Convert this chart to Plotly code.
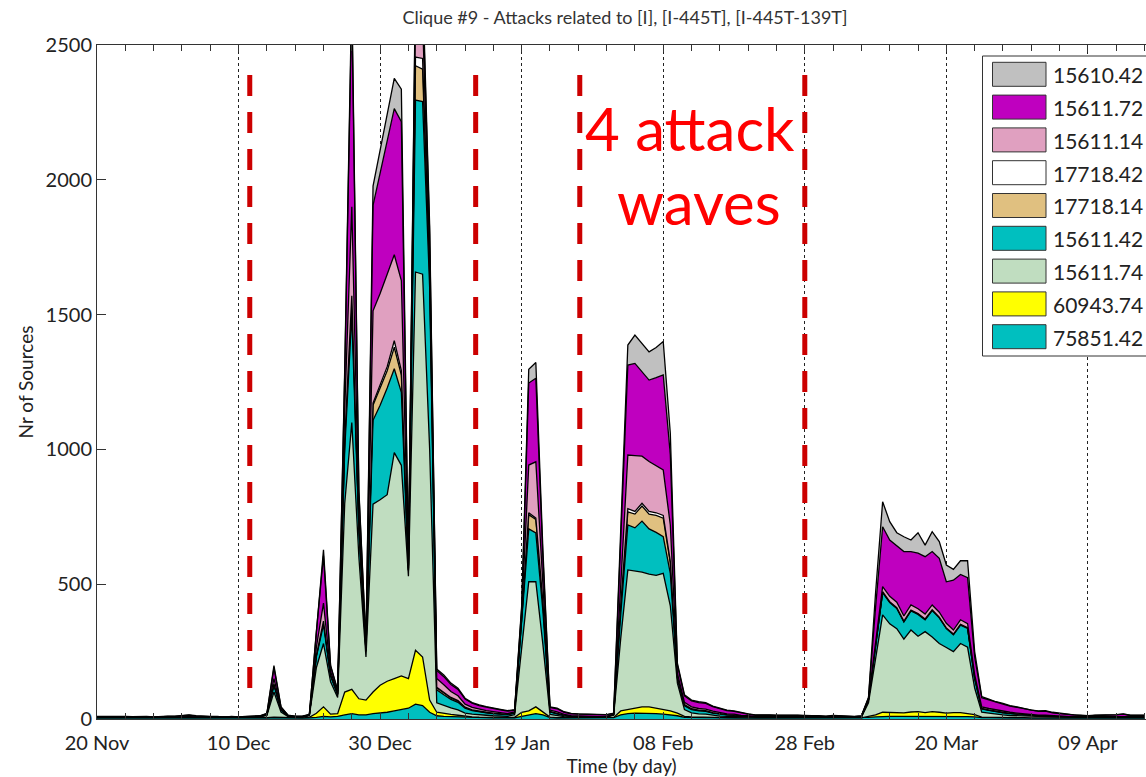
import pandas as pd
import plotly.graph_objects as go

# ---------------- data (daily counts, 20 Nov 2008 .. 17 Apr 2009) ----------------
dates = pd.date_range("2008-11-20", periods=149, freq="D")

s75851_42 = [4, 4, 4, 4, 4, 4, 4, 4, 3, 4,
             4, 4, 4, 4, 4, 4, 4, 4, 3, 4,
             3, 4, 4, 4, 4, 5, 5, 4, 4, 4,
             4, 6, 10, 8, 10, 15, 20, 15, 15, 20,
             22, 25, 30, 35, 40, 55, 50, 25, 12, 10,
             9, 8, 6, 5, 5, 5, 4, 4, 4, 4,
             10, 15, 20, 15, 5, 4, 4, 4, 4, 4,
             4, 4, 4, 5, 15, 20, 22, 22, 22, 20,
             18, 15, 12, 6, 5, 5, 5, 5, 4, 4,
             4, 4, 4, 4, 4, 4, 4, 4, 4, 4,
             4, 4, 4, 4, 4, 4, 4, 4, 4, 6,
             8, 10, 10, 10, 10, 11, 11, 11, 11, 10,
             10, 10, 10, 9, 8, 5, 5, 4, 4, 4,
             4, 4, 4, 4, 4, 4, 4, 4, 4, 4,
             4, 4, 4, 4, 4, 4, 4, 4, 4]

s60943_74 = [0, 0, 0, 0, 0, 0, 0, 0, 0, 0,
             0, 0, 0, 0, 0, 0, 0, 0, 0, 0,
             0, 0, 0, 0, 1, 2, 1, 1, 0, 0,
             2, 15, 35, 10, 10, 85, 90, 60, 55, 80,
             103, 115, 120, 125, 110, 200, 180, 45, 13, 10,
             8, 6, 4, 3, 2, 2, 2, 1, 1, 2,
             15, 15, 25, 10, 2, 1, 1, 0, 0, 0,
             0, 0, 0, 1, 15, 15, 20, 23, 23, 20,
             17, 15, 10, 4, 3, 2, 2, 1, 1, 1,
             1, 0, 0, 0, 0, 0, 0, 0, 0, 0,
             0, 0, 0, 0, 0, 0, 0, 0, 0, 4,
             7, 15, 15, 14, 13, 15, 16, 13, 16, 15,
             12, 14, 14, 11, 8, 2, 2, 2, 1, 1,
             1, 1, 0, 0, 0, 0, 0, 0, 0, 0,
             0, 0, 0, 0, 0, 0, 0, 0, 0]

s15611_74 = [2, 2, 3, 3, 2, 2, 2, 2, 2, 2,
             2, 2, 3, 3, 2, 2, 2, 2, 2, 2,
             2, 2, 2, 4, 8, 93, 20, 4, 3, 3,
             6, 170, 235, 120, 60, 700, 990, 525, 160, 697,
             688, 692, 838, 781, 380, 1403, 1420, 930, 35, 30,
             24, 20, 12, 10, 8, 7, 6, 6, 5, 10,
             235, 479, 464, 251, 10, 7, 4, 3, 3, 3,
             3, 2, 3, 8, 270, 518, 507, 500, 492, 493,
             505, 390, 111, 25, 15, 12, 11, 8, 6, 5,
             4, 3, 3, 2, 2, 2, 2, 2, 2, 2,
             2, 2, 2, 2, 2, 2, 2, 2, 3, 50,
             209, 361, 328, 311, 273, 304, 280, 300, 277, 255,
             243, 226, 256, 246, 99, 18, 15, 12, 10, 8,
             7, 6, 5, 4, 4, 3, 3, 3, 2, 2,
             2, 2, 2, 2, 2, 2, 2, 2, 2]

s15611_42 = [1, 1, 1, 1, 1, 1, 1, 1, 1, 1,
             1, 1, 1, 1, 1, 1, 1, 1, 1, 1,
             1, 1, 1, 1, 3, 25, 8, 2, 1, 1,
             2, 40, 70, 22, 10, 200, 400, 100, 20, 311,
             351, 396, 311, 271, 20, 638, 640, 600, 48, 40,
             32, 28, 18, 13, 11, 9, 8, 7, 6, 6,
             100, 196, 181, 124, 9, 7, 4, 3, 3, 2,
             2, 2, 2, 3, 90, 167, 160, 189, 168, 159,
             136, 120, 17, 14, 12, 11, 10, 8, 7, 5,
             5, 4, 3, 2, 2, 2, 2, 2, 2, 2,
             2, 1, 2, 1, 1, 2, 1, 1, 1, 10,
             46, 83, 79, 75, 64, 71, 81, 44, 98, 95,
             70, 62, 68, 70, 35, 12, 10, 9, 8, 7,
             6, 5, 4, 4, 4, 3, 3, 2, 2, 2,
             2, 2, 2, 2, 2, 2, 2, 2, 2]

s17718_14 = [0, 0, 0, 0, 0, 0, 0, 0, 0, 0,
             0, 0, 0, 0, 0, 0, 0, 0, 0, 0,
             0, 0, 0, 0, 0, 3, 1, 0, 0, 0,
             0, 4, 10, 3, 2, 30, 60, 10, 3, 56,
             64, 64, 80, 64, 3, 127, 120, 50, 7, 6,
             5, 4, 3, 2, 2, 1, 1, 1, 1, 1,
             10, 53, 50, 30, 1, 1, 1, 0, 0, 0,
             0, 0, 0, 0, 30, 48, 51, 56, 55, 63,
             69, 40, 5, 3, 2, 2, 2, 1, 1, 1,
             1, 0, 0, 0, 0, 0, 0, 0, 0, 0,
             0, 0, 0, 0, 0, 0, 0, 0, 0, 1,
             1, 2, 2, 2, 2, 2, 2, 2, 2, 2,
             2, 2, 2, 2, 2, 1, 1, 1, 1, 1,
             1, 0, 0, 0, 0, 0, 0, 0, 0, 0,
             0, 0, 0, 0, 0, 0, 0, 0, 0]

s17718_42 = [0, 0, 0, 0, 0, 0, 0, 0, 0, 0,
             0, 0, 0, 0, 0, 0, 0, 0, 0, 0,
             0, 0, 0, 0, 0, 2, 1, 0, 0, 0,
             0, 2, 3, 1, 1, 5, 10, 2, 1, 8,
             11, 15, 24, 16, 2, 32, 40, 10, 3, 3,
             2, 2, 1, 1, 1, 1, 1, 0, 0, 0,
             2, 7, 5, 3, 1, 1, 0, 0, 0, 0,
             0, 0, 0, 0, 5, 12, 10, 10, 10, 10,
             10, 5, 2, 2, 1, 1, 1, 1, 1, 0,
             0, 0, 0, 0, 0, 0, 0, 0, 0, 0,
             0, 0, 0, 0, 0, 0, 0, 0, 0, 1,
             1, 1, 1, 1, 1, 1, 1, 1, 1, 1,
             1, 1, 1, 1, 1, 1, 1, 1, 1, 0,
             0, 0, 0, 0, 0, 0, 0, 0, 0, 0,
             0, 0, 0, 0, 0, 0, 0, 0, 0]

s15611_14 = [1, 1, 1, 1, 1, 0, 1, 1, 0, 1,
             1, 1, 1, 1, 1, 1, 1, 1, 0, 1,
             0, 1, 1, 1, 2, 20, 3, 1, 1, 1,
             1, 30, 67, 12, 5, 115, 330, 48, 8, 342,
             339, 343, 319, 334, 5, 165, 150, 60, 32, 28,
             22, 18, 11, 9, 7, 6, 5, 4, 3, 3,
             18, 177, 209, 67, 5, 5, 3, 2, 2, 2,
             1, 1, 1, 1, 95, 199, 207, 175, 185, 175,
             169, 135, 13, 8, 7, 6, 6, 5, 4, 3,
             3, 2, 2, 1, 1, 1, 1, 1, 1, 1,
             1, 1, 1, 1, 1, 1, 1, 1, 1, 2,
             13, 19, 20, 20, 19, 19, 18, 18, 18, 18,
             17, 15, 17, 15, 12, 6, 5, 5, 4, 4,
             3, 3, 2, 2, 2, 2, 1, 1, 1, 1,
             1, 1, 1, 1, 1, 1, 1, 1, 1]

s15611_72 = [1, 1, 1, 2, 1, 1, 1, 1, 1, 1,
             2, 2, 3, 5, 3, 1, 1, 1, 1, 1,
             1, 1, 1, 1, 2, 40, 5, 1, 1, 1,
             1, 60, 175, 20, 7, 130, 750, 80, 16, 391,
             447, 494, 542, 590, 8, 100, 100, 80, 30, 30,
             26, 24, 19, 16, 14, 13, 11, 11, 9, 7,
             20, 304, 310, 100, 10, 12, 8, 7, 6, 6,
             6, 6, 5, 3, 150, 334, 342, 315, 302, 326,
             352, 260, 30, 24, 22, 22, 21, 17, 14, 12,
             10, 9, 6, 5, 6, 5, 4, 5, 4, 4,
             2, 3, 2, 2, 4, 2, 2, 1, 2, 4,
             129, 222, 209, 209, 239, 198, 206, 213, 198, 200,
             154, 185, 168, 170, 65, 34, 32, 27, 26, 23,
             21, 17, 16, 14, 15, 11, 9, 8, 5, 4,
             2, 4, 4, 5, 6, 9, 4, 4, 4]

s15610_42 = [1, 1, 1, 1, 1, 1, 1, 1, 1, 1,
             1, 1, 1, 1, 1, 1, 1, 1, 0, 1,
             1, 1, 1, 1, 1, 8, 1, 1, 1, 1,
             1, 8, 23, 4, 2, 20, 50, 10, 7, 72,
             81, 91, 112, 120, 4, 40, 40, 30, 5, 6,
             5, 4, 3, 2, 2, 2, 2, 2, 2, 2,
             10, 51, 58, 27, 2, 2, 2, 2, 1, 1,
             1, 1, 1, 1, 30, 74, 105, 105, 105, 112,
             124, 80, 7, 4, 3, 3, 3, 2, 2, 2,
             2, 2, 1, 1, 1, 1, 1, 1, 1, 1,
             1, 1, 1, 1, 1, 1, 1, 1, 1, 2,
             54, 93, 68, 49, 55, 43, 76, 43, 74, 62,
             62, 40, 51, 63, 20, 4, 3, 3, 3, 2,
             2, 2, 2, 2, 2, 2, 1, 1, 1, 1,
             1, 1, 1, 1, 1, 1, 1, 1, 1]

# stacking order: bottom first
series_names = ["75851.42", "60943.74", "15611.74", "15611.42", "17718.14",
                "17718.42", "15611.14", "15611.72", "15610.42"]
series_values = [s75851_42, s60943_74, s15611_74, s15611_42, s17718_14,
                 s17718_42, s15611_14, s15611_72, s15610_42]
series_colors = ["#00BFBF", "#FFFF00", "#C0DDC0", "#00BFBF", "#E0C080",
                 "#FFFFFF", "#E0A0C0", "#BF00BF", "#C0C0C0"]

wave_bounds = ["2008-12-11 14:00", "2009-01-12 12:00", "2009-01-27 05:00", "2009-02-28 00:00"]

title_text = "Clique #9 - Attacks related to [I], [I-445T], [I-445T-139T]"

# ---------------- figure ----------------
W, H = 1146, 777
ML, MR, MT, MB = 97, 0, 45, 58
PW, PH = W - ML - MR, H - MT - MB


def px_x(px):
    return (px - ML) / PW


def px_y(py):
    return (H - MB - py) / PH


fig = go.Figure()
for name, vals, col in zip(series_names, series_values, series_colors):
    fig.add_trace(go.Scatter(
        x=dates, y=vals, name=name, mode="lines", stackgroup="one",
        line=dict(color="#000000", width=1.3), fillcolor=col, showlegend=False,
    ))

shapes = []
for xb in wave_bounds:
    shapes.append(dict(type="line", xref="x", yref="y", x0=xb, x1=xb, y0=2389, y1=108,
                       line=dict(color="#CC0000", width=5, dash="21px,16px"), layer="above"))

# manual legend (top entry = last stacked series)
shapes.append(dict(type="rect", xref="paper", yref="paper",
                   x0=px_x(982.5), x1=px_x(1170), y0=px_y(356), y1=px_y(56),
                   line=dict(color="#333333", width=1), fillcolor="white", layer="above"))
annotations = []
for i, (name, col) in enumerate(zip(series_names[::-1], series_colors[::-1])):
    top = 62.3 + 32.8 * i
    shapes.append(dict(type="rect", xref="paper", yref="paper",
                       x0=px_x(992.5), x1=px_x(1046), y0=px_y(top + 24), y1=px_y(top),
                       line=dict(color="#333333", width=1), fillcolor=col, layer="above"))
    annotations.append(dict(xref="paper", yref="paper", x=px_x(1051), y=px_y(top + 12.5),
                            xanchor="left", yanchor="middle", text=name, showarrow=False,
                            font=dict(family="Lato", size=21, color="#222222")))

annotations.append(dict(xref="paper", yref="paper", x=px_x(690), y=px_y(128), text="4 attack",
                        showarrow=False, xanchor="center", yanchor="middle",
                        font=dict(family="Lato", size=60, color="#FF0000")))
annotations.append(dict(xref="paper", yref="paper", x=px_x(699), y=px_y(202), text="waves",
                        showarrow=False, xanchor="center", yanchor="middle",
                        font=dict(family="Lato", size=60, color="#FF0000")))

DAY = 86400000
fig.update_layout(
    width=W, height=H,
    margin=dict(l=ML, r=MR, t=MT, b=MB),
    paper_bgcolor="white", plot_bgcolor="white",
    showlegend=False,
    font=dict(family="Lato", color="#222222"),
    title=dict(text=title_text, x=px_x(625), xref="paper", xanchor="center",
               y=1 - 18 / H, yref="container", yanchor="middle",
               font=dict(family="Lato", size=18, color="#333333")),
    shapes=shapes, annotations=annotations,
    xaxis=dict(
        type="date", range=["2008-11-20", "2009-04-17 05:00"],
        tick0="2008-11-20", dtick=20 * DAY, tickformat="%d %b",
        ticks="inside", ticklen=7, tickcolor="#333333",
        showline=True, linecolor="#333333", linewidth=1, mirror="ticks",
        showgrid=True, gridcolor="#222222", gridwidth=1, griddash="3px,3px",
        zeroline=False,
        minor=dict(tick0="2008-11-20", dtick=4 * DAY, ticks="inside", ticklen=6,
                   tickcolor="#333333", showgrid=False),
        tickfont=dict(family="Lato", size=20, color="#222222"),
        ticklabelstandoff=6,
        title=dict(text="Time (by day)", font=dict(family="Lato", size=19, color="#222222"),
                   standoff=4),
    ),
    yaxis=dict(
        range=[0, 2500], tick0=0, dtick=500,
        ticks="inside", ticklen=9, tickcolor="#333333",
        showline=True, linecolor="#333333", linewidth=1,
        showgrid=False, zeroline=False,
        tickfont=dict(family="Lato", size=20, color="#222222"),
        title=dict(text="Nr of Sources", font=dict(family="Lato", size=19, color="#222222"),
                   standoff=6),
    ),
)

fig.write_html("out.html", config={"displayModeBar": False},
               post_script="document.body.style.margin='0';document.body.style.overflow='hidden';")
